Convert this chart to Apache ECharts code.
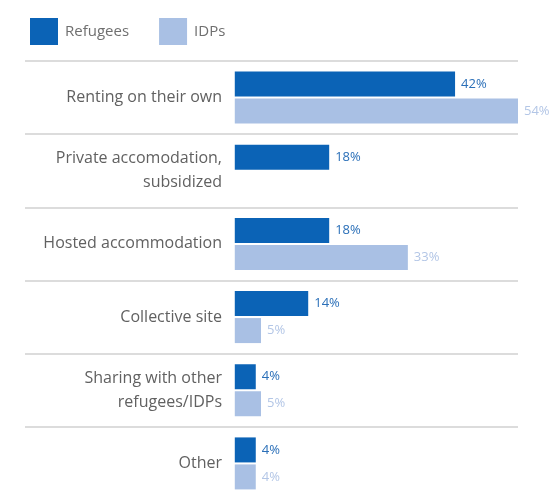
<!DOCTYPE html>
<html>
<head>
<meta charset="utf-8">
<script src="https://cdn.jsdelivr.net/npm/echarts@6/dist/echarts.min.js"></script>
<style>html,body{margin:0;padding:0;background:#fff;overflow:hidden}#c{width:554px;height:510px}</style>
</head>
<body>
<div id="c"></div>
<script>
const categories = ['Renting on their own', 'Private accomodation,\nsubsidized', 'Hosted accommodation', 'Collective site', 'Sharing with other\nrefugees/IDPs', 'Other'];
const seriesNames = ['Refugees', 'IDPs'];
const refugees = [42, 18, 18, 14, 4, 4];
const idps = [54, null, 33, 5, 5, 4];

const DARK = '#0b63b6';
const LIGHT = '#a9c0e4';
const FONT = 'Open Sans';

const chart = echarts.init(document.getElementById('c'), null, {renderer: 'canvas'});
chart.setOption({
  animation: false,
  textStyle: {fontFamily: FONT},
  legend: {
    left: 25, top: 13,
    itemWidth: 28, itemHeight: 27, itemGap: 30,
    icon: 'rect',
    textStyle: {color: '#6f6f6f', fontSize: 15, fontFamily: FONT, padding: [0, 0, 0, 2]},
    data: seriesNames
  },
  grid: {left: 25, top: 61, width: 493, height: 439},
  xAxis: {
    type: 'value', min: -40, max: 54,
    show: false, splitLine: {show: false}
  },
  yAxis: {
    type: 'category', inverse: true, data: categories,
    axisLine: {show: false}, axisTick: {show: false},
    splitLine: {show: true, interval: 0, lineStyle: {color: '#d0d0d0', width: 1.5}},
    axisLabel: {
      margin: -197, align: 'right', color: '#616161', fontSize: 16, lineHeight: 24, fontFamily: FONT
    }
  },
  series: [
    {
      name: seriesNames[0], type: 'bar', data: refugees,
      barWidth: 25, barGap: '8%',
      itemStyle: {color: DARK},
      label: {show: true, position: 'right', distance: 6, formatter: '{c}%', color: '#2a6fb8', fontSize: 13, fontFamily: FONT}
    },
    {
      name: seriesNames[1], type: 'bar', data: idps,
      barWidth: 25, barGap: '8%',
      itemStyle: {color: LIGHT},
      label: {show: true, position: 'right', distance: 6, formatter: '{c}%', color: '#b3c6e6', fontSize: 13, fontFamily: FONT}
    }
  ]
});
</script>
</body>
</html>
